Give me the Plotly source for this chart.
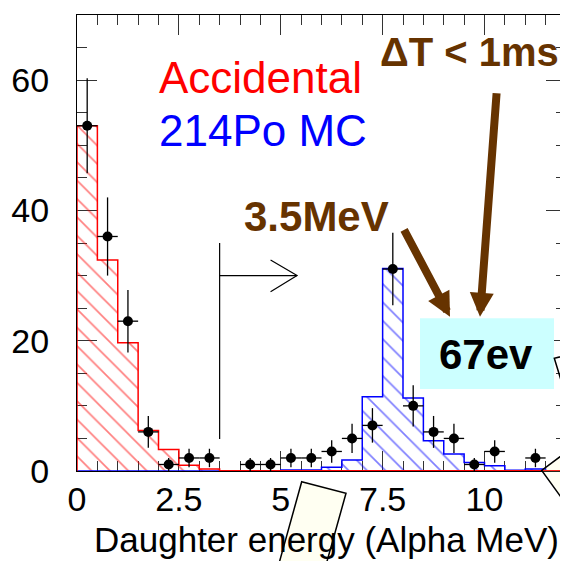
import plotly.graph_objects as go
import numpy as np

# ---------------- data ----------------
bin_edges = [i * 0.5 for i in range(25)]          # 0 .. 12 MeV, 0.5 MeV bins
bin_centers = [e + 0.25 for e in bin_edges[:-1]]

accidental = [53, 32.4, 19.7, 6.2, 3.3, 0.9, 0.3, 0.05, 0.05, 0.05, 0.05, 0.05,
              0.05, 0.05, 0.05, 0.05, 0.05, 0.05, 0.05, 0.05, 0.05, 0.05, 0.05, 0.05]
po214_mc = [0, 0, 0, 0, 0, 0, 0, 0, 0, 0, 0.15, 0.15,
            0.57, 1.7, 11.4, 31.1, 11.2, 4.65, 2.6, 1.3, 0.8, 0.1, 0.3, 0]

data_x = [0.25, 0.75, 1.25, 1.75, 2.25, 2.75, 3.25, 4.25, 4.75, 5.25, 5.75,
          6.25, 6.75, 7.25, 7.75, 8.25, 8.75, 9.25, 9.75, 10.25, 11.25]
data_y = [53, 36, 23, 6, 1, 2, 2, 1, 1, 2, 2,
          3, 5, 7, 31, 10, 6, 5, 1, 3, 2]
data_err = [float(np.sqrt(v)) for v in data_y]

x_ticks = [0, 2.5, 5, 7.5, 10]
x_ticklabels = ["0", "2.5", "5", "7.5", "10"]
y_ticks = [0, 20, 40, 60]

# cut marker (energy cut 3.5 MeV)
CUT_E = 3.5

FONT = "Liberation Sans, Arial, sans-serif"
BROWN = "#663300"

# page body has an 8px margin: figure is placed at (8, 8) in the window
OFF = 8
WIN_W, WIN_H = 568, 561
W, H = WIN_W - OFF, WIN_H - OFF
# plot area in window pixels
PL, PR, PT, PB = 77, 566, 15, 471
L, T = PL - OFF, PT - OFF
R, B = (OFF + W) - PR, (OFF + H) - PB
PW, PH = PR - PL, PB - PT


def px(xp):
    return (xp - PL) / PW


def py(yp):
    return (PB - yp) / PH


fig = go.Figure()

# hatched histograms
for vals, col in [(accidental, "#ff0000"), (po214_mc, "#0000ff")]:
    fig.add_trace(go.Bar(
        x=bin_centers, y=vals, width=0.5,
        marker=dict(color="rgba(0,0,0,0)", line=dict(width=0),
                    pattern=dict(shape="\\", fgcolor=col, bgcolor="rgba(0,0,0,0)",
                                 size=13, solidity=0.13)),
        showlegend=False, hoverinfo="skip"))


def step_xy(vals):
    xs = [0] + bin_edges[:-1] + [bin_edges[-1]]
    ys = [0] + list(vals) + [0]
    return xs, ys


for vals, col in [(po214_mc, "#0000ff"), (accidental, "#ff0000")]:
    sx, sy = step_xy(vals)
    fig.add_trace(go.Scatter(x=sx, y=sy, mode="lines", line=dict(color=col, width=1.5, shape="hv"),
                             showlegend=False, hoverinfo="skip", cliponaxis=False))

# data points
fig.add_trace(go.Scatter(
    x=data_x, y=data_y, mode="markers",
    marker=dict(color="black", size=10),
    error_y=dict(type="data", array=data_err, color="black", thickness=1.3, width=0),
    error_x=dict(type="constant", value=0.25, color="black", thickness=1.3, width=0),
    showlegend=False, hoverinfo="skip"))

axis_common = dict(
    showline=True, linecolor="black", linewidth=1.3, mirror="allticks",
    ticks="inside", ticklen=20, tickwidth=1, tickcolor="#333333",
    showgrid=False, zeroline=False, layer="below traces", automargin=False,
    tickfont=dict(family=FONT, size=34, color="black"),
)

fig.update_xaxes(range=[0, 12], tickvals=x_ticks, ticktext=x_ticklabels,
                 minor=dict(dtick=0.5, ticklen=10, ticks="inside", tickcolor="#333333", tickwidth=1),
                 ticklabelstandoff=-2, **axis_common)
fig.update_yaxes(range=[0, 70], tickvals=y_ticks,
                 minor=dict(dtick=5, ticklen=10, ticks="inside", tickcolor="#333333", tickwidth=1),
                 ticklabelstandoff=20, **axis_common)

shapes = []
# cut marker
shapes.append(dict(type="line", xref="x", yref="y", x0=CUT_E, x1=CUT_E, y0=4.9, y1=35,
                   line=dict(color="black", width=1.2)))
shapes.append(dict(type="line", xref="x", yref="y", x0=CUT_E, x1=5.4, y0=30, y1=30,
                   line=dict(color="black", width=1.2)))
shapes.append(dict(type="path", xref="x", yref="y", path="M 4.75,32.4 L 5.4,30 L 4.75,27.5",
                   line=dict(color="black", width=1.2)))

# cyan box
shapes.append(dict(type="rect", xref="paper", yref="paper",
                   x0=px(420), x1=px(554), y0=py(389), y1=py(318.3),
                   fillcolor="#ccffff", line=dict(width=0), layer="above"))

# stray slide shapes
shapes.append(dict(type="path", xref="paper", yref="paper",
                   path=f"M {px(301.7)},{py(481.7)} L {px(346)},{py(493.3)} L {px(324.6)},{py(570)} L {px(277.2)},{py(570)} Z",
                   fillcolor="rgba(255,255,170,0.15)", line=dict(color="black", width=1.5)))
shapes.append(dict(type="path", xref="paper", yref="paper",
                   path=f"M {px(580)},{py(351.8)} L {px(554.3)},{py(358.3)} L {px(580)},{py(442)}",
                   line=dict(color="black", width=1.5)))
shapes.append(dict(type="path", xref="paper", yref="paper",
                   path=f"M {px(580)},{py(441.8)} L {px(541.7)},{py(470.5)} L {px(580)},{py(523.4)} Z",
                   fillcolor="rgba(255,255,170,0.15)", line=dict(color="black", width=1.5)))

annotations = []


def txt(text, x, y, size, color, xanchor="left", bold=False):
    if bold:
        text = f"<b>{text}</b>"
    annotations.append(dict(text=text, x=x, y=y, xref="paper", yref="paper",
                            xanchor=xanchor, yanchor="middle", showarrow=False,
                            font=dict(family=FONT, size=size, color=color)))


txt("Accidental", px(157), py(77.5), 44, "#ff0000")
txt("214Po MC", px(157), py(130.5), 44, "#0000ff")
txt("ΔT &lt; 1ms", px(378), py(52.2), 40, BROWN, bold=True)
txt("3.5MeV", px(242), py(216.7), 42, BROWN, bold=True)
txt("67ev", px(486), py(354.7), 42, "black", xanchor="center", bold=True)
txt("Daughter energy (Alpha MeV)", px(326.7), py(539), 35, "black", xanchor="center")

# brown arrows
for tip, tail in [((450, 316.7), (403.3, 228.3)), ((480, 316.7), (496.7, 91.7))]:
    annotations.append(dict(text="", x=px(tip[0]), y=py(tip[1]), xref="paper", yref="paper",
                            ax=tail[0] - tip[0], ay=tail[1] - tip[1], axref="pixel", ayref="pixel",
                            showarrow=True, arrowhead=2, arrowsize=0.6, arrowwidth=8,
                            arrowcolor=BROWN, standoff=0))

fig.update_layout(
    width=W, height=H, autosize=False,
    margin=dict(l=L, r=R, t=T, b=B, pad=0, autoexpand=False),
    paper_bgcolor="white", plot_bgcolor="white",
    barmode="overlay", bargap=0,
    shapes=shapes, annotations=annotations,
    showlegend=False,
)

fig.write_html("out.html")
